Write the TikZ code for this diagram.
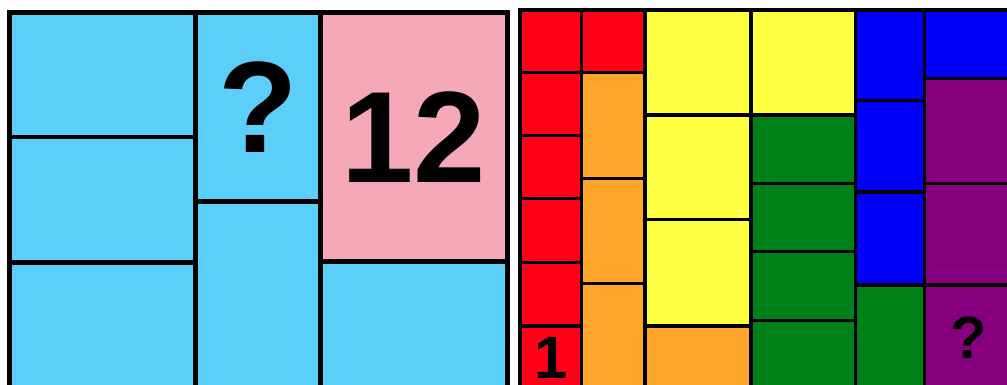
\documentclass[tikz,border=0pt]{standalone}
\usepackage{fontspec}
\setmainfont{Liberation Sans}
\definecolor{tblue}{HTML}{5BCEFA}
\definecolor{tpink}{HTML}{F5A9B8}
\definecolor{fred}{HTML}{FF0018}
\definecolor{forange}{HTML}{FFA52C}
\definecolor{fyellow}{HTML}{FFFF41}
\definecolor{fgreen}{HTML}{008018}
\definecolor{fblue}{HTML}{0000F9}
\definecolor{fpurple}{HTML}{86007D}
\tikzset{
  bigcell/.style={draw=black, line width=0.1cm},
  smallcell/.style={draw=black, line width=0.07cm},
  biglabel/.style={font=\fontsize{74}{74}\selectfont\bfseries, inner sep=0pt},
  smalllabel/.style={font=\fontsize{34}{34}\selectfont\bfseries, inner sep=0pt}
}
\begin{document}
\begin{tikzpicture}[x=0.02cm, y=-0.02cm]
  \useasboundingbox (0,0) rectangle (1007,385);
  \clip (0,0) rectangle (1007,385);
  % Left panel
  \filldraw[bigcell, fill=tblue] (9.5,12.5) rectangle (195.5,137);
  \filldraw[bigcell, fill=tblue] (9.5,137) rectangle (195.5,262);
  \filldraw[bigcell, fill=tblue] (9.5,262) rectangle (195.5,392);
  \filldraw[bigcell, fill=tblue] (195.5,12.5) rectangle (320.5,201);
  \filldraw[bigcell, fill=tblue] (195.5,201) rectangle (320.5,392);
  \filldraw[bigcell, fill=tpink] (320.5,12.5) rectangle (507.5,261);
  \filldraw[bigcell, fill=tblue] (320.5,261) rectangle (507.5,392);
  \node[biglabel] (qleft) at (258,107) {?};
  \node[biglabel] (twelve) at (414,137) {12};
  % Right panel, column 1
  \foreach \ya/\yb in {10/72.5, 72.5/135.5, 135.5/198.5, 198.5/262.5, 262.5/326, 326/389}
    \filldraw[smallcell, fill=fred] (520,\ya) rectangle (581.5,\yb);
  % column 2
  \filldraw[smallcell, fill=fred] (581.5,10) rectangle (645,72.5);
  \foreach \ya/\yb in {72.5/178.5, 178.5/283.5, 283.5/389}
    \filldraw[smallcell, fill=forange] (581.5,\ya) rectangle (645,\yb);
  % column 3
  \foreach \ya/\yb in {10/115, 115/219.5, 219.5/326}
    \filldraw[smallcell, fill=fyellow] (645,\ya) rectangle (751,\yb);
  \filldraw[smallcell, fill=forange] (645,326) rectangle (751,389);
  % column 4
  \filldraw[smallcell, fill=fyellow] (751,10) rectangle (855.5,115);
  \foreach \ya/\yb in {115/183.5, 183.5/251.5, 251.5/320.5, 320.5/389}
    \filldraw[smallcell, fill=fgreen] (751,\ya) rectangle (855.5,\yb);
  % column 5
  \foreach \ya/\yb in {10/100.5, 100.5/192, 192/285}
    \filldraw[smallcell, fill=fblue] (855.5,\ya) rectangle (924.5,\yb);
  \filldraw[smallcell, fill=fgreen] (855.5,285) rectangle (924.5,389);
  % column 6
  \filldraw[smallcell, fill=fblue] (924.5,10) rectangle (1014,78.5);
  \foreach \ya/\yb in {78.5/183.5, 183.5/285, 285/389}
    \filldraw[smallcell, fill=fpurple] (924.5,\ya) rectangle (1014,\yb);
  \node[smalllabel] (one) at (551,358) {1};
  \node[smalllabel] (qright) at (969,337.5) {?};
\end{tikzpicture}
\end{document}
